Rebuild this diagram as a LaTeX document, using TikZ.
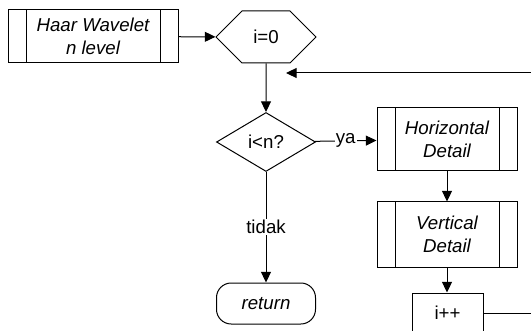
\documentclass[tikz,border=0pt]{standalone}
\usepackage{fontspec}
\setmainfont{Liberation Sans}
\usetikzlibrary{shapes.geometric,shapes.symbols,arrows.meta,positioning}
\newcommand{\flowfont}{\fontsize{14pt}{17.25pt}\selectfont}

\begin{document}
\begin{tikzpicture}[
  x=0.75pt,y=-0.75pt,
  line width=0.75pt,
  font=\flowfont,
  subproc/.style={draw,minimum width=105pt,minimum height=47.25pt,align=center,font=\flowfont\itshape,
    path picture={\draw ([xshift=13.5pt]path picture bounding box.north west) -- ([xshift=13.5pt]path picture bounding box.south west)
      ([xshift=-13.5pt]path picture bounding box.north east) -- ([xshift=-13.5pt]path picture bounding box.south east);}},
  prep/.style={draw,shape=signal,signal to=west and east,signal pointer angle=90,minimum width=75pt,minimum height=39pt,inner sep=0pt},
  decision/.style={draw,diamond,aspect=1.68,minimum width=74.25pt,minimum height=44.25pt,inner sep=0pt},
  procbox/.style={draw,minimum width=53.25pt,minimum height=30pt},
  term/.style={draw,rounded corners=11pt,minimum width=74.25pt,minimum height=30.75pt,font=\flowfont\itshape},
  lbl/.style={fill=white,inner sep=1pt},
  arr/.style={-{Triangle[length=8pt,width=7.5pt]}},
]
\useasboundingbox (0,0) rectangle (531,331);

\node[subproc,minimum width=127.5pt,minimum height=39.75pt] (haar) at (93,36.5) {Haar Wavelet\\n level};

\node[prep] (init) at (266,37) {i=0};

\node[decision] (cond) at (266,142) {i<n?};

\node[subproc] (horiz) at (447,139.5) {Horizontal\\Detail};

\node[subproc,minimum height=48.75pt] (vert) at (447,234.5) {Vertical\\Detail};

\node[procbox] (inc) at (447.5,313) {i++};

\node[term] (ret) at (266,303.5) {return};

\coordinate (loopin) at (531,73);
\coordinate (loopend) at (286,73);
\coordinate (loopout) at (531,313);

\draw[arr] (haar) -- (init);
\draw[arr] (init) -- (cond);
\draw[arr] (loopin) -- (loopend);
\draw[arr] (cond) -- node[lbl] {ya} (horiz);
\draw[arr] (horiz) -- (vert);
\draw[arr] (vert) -- (inc.north -| vert.south);
\draw (inc) -- (loopout);
\draw[arr] (cond) -- node[lbl] {tidak} (ret);

\end{tikzpicture}
\end{document}
